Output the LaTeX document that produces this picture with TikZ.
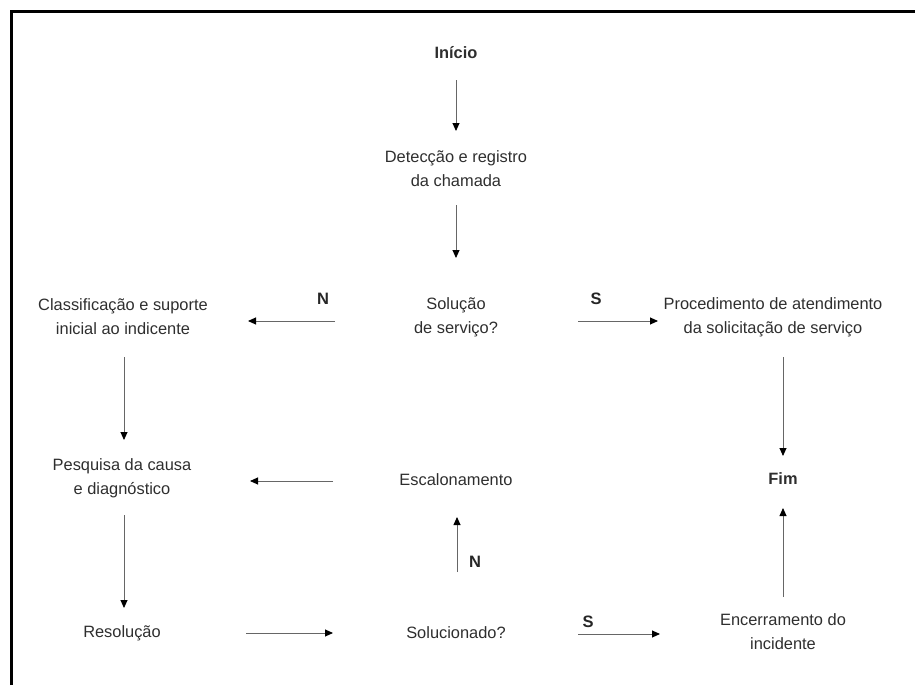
\documentclass[tikz,border=0pt]{standalone}
\usepackage{fontspec}
\setmainfont{Liberation Sans}
\usetikzlibrary{arrows.meta}
\definecolor{txt}{HTML}{2E2E2E}
\definecolor{shaft}{HTML}{666666}
\tikzset{
  lbl/.style={text=txt, align=center, inner sep=0pt,
    font=\fontsize{16.4}{24}\selectfont},
  term/.style={lbl, font=\fontsize{16.4}{24}\selectfont\bfseries},
  yn/.style={text=black!85, inner sep=0pt, font=\fontsize{16.5}{18}\selectfont\bfseries},
  flow/.style={draw=shaft, line width=0.9pt,
    -{Triangle[length=8pt,width=7pt,black]}},
  frame/.style={draw=black, line width=3pt}
}
\begin{document}
\begin{tikzpicture}[x=1pt,y=-1pt]
\useasboundingbox (0,0) rectangle (915,685);
% outer frame (top and left edges)
\draw[frame] (11.5,685) -- (11.5,11.5) -- (915,11.5);

% steps
\node[term] (inicio) at (456,53) {Início};
\node[lbl] (detec) at (456,169) {Detecção e registro\\da chamada};
\node[lbl] (sol) at (456,317) {Solução\\de serviço?};
\node[lbl] (class) at (123,317) {Classificação e suporte\\inicial ao indicente};
\node[lbl] (proc) at (773,317) {Procedimento de atendimento\\da solicitação de serviço};
\node[lbl] (pesq) at (122,478) {Pesquisa da causa\\e diagnóstico};
\node[lbl] (esc) at (456,480) {Escalonamento};
\node[term] (fim) at (783,479) {Fim};
\node[lbl] (resol) at (122,633) {Resolução};
\node[lbl] (soluc) at (456,633) {Solucionado?};
\node[lbl] (enc) at (783,632) {Encerramento do\\incidente};

% branch labels
\node[yn] (n1) at (323,299) {N};
\node[yn] (s1) at (596,299) {S};
\node[yn] (n2) at (475,562) {N};
\node[yn] (s2) at (588,622) {S};

% connectors (yshift is upward on the canvas, so negative values move down)
\draw[flow, shorten <=27pt, shorten >=38pt] (inicio.center) -- (detec.center);
\draw[flow, shorten <=36pt, shorten >=59pt] (detec.center) -- (sol.center);
\draw[flow, shorten <=121pt, shorten >=125pt] ([yshift=-4pt]sol.center) -- ([yshift=-4pt]class.center);
\draw[flow, shorten <=122pt, shorten >=115pt] ([yshift=-4pt]sol.center) -- ([yshift=-4pt]proc.center);
\draw[flow, shorten <=40pt, shorten >=38pt] ([xshift=1pt]class.center) -- ([xshift=2pt]pesq.center);
\draw[flow, shorten <=123pt, shorten >=128pt] ([yshift=-1pt]esc.center) -- ([yshift=-3pt]pesq.center);
\draw[flow, shorten <=37pt, shorten >=25pt] ([xshift=2pt]pesq.center) -- ([xshift=2pt]resol.center);
\draw[flow, shorten <=124pt, shorten >=123pt] (resol.center) -- (soluc.center);
\draw[flow, shorten <=61pt, shorten >=37pt] ([xshift=1pt]soluc.center) -- ([xshift=1pt]esc.center);
\draw[flow, shorten <=122pt, shorten >=123pt] ([yshift=-1pt]soluc.center) -- ([yshift=-2pt]enc.center);
\draw[flow, shorten <=35pt, shorten >=29pt] (enc.center) -- (fim.center);
\draw[flow, shorten <=40pt, shorten >=23pt] (fim |- proc.center) -- (fim.center);
\end{tikzpicture}
\end{document}
